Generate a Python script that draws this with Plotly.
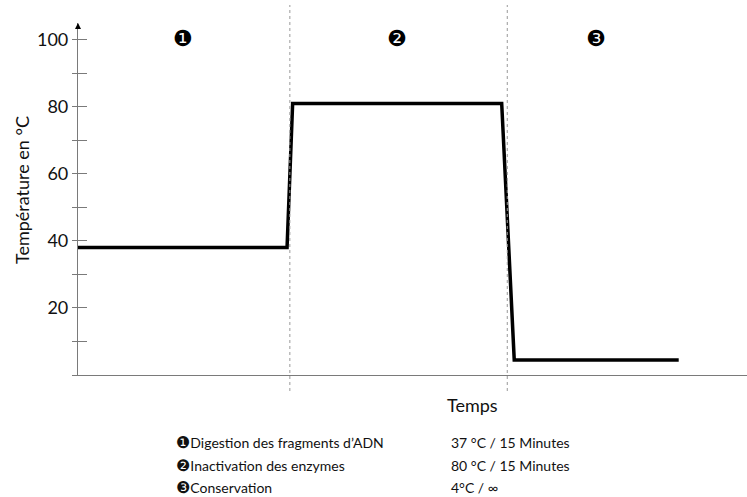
import plotly.graph_objects as go

# time in minutes, temperature in °C as drawn
temps_x = [0, 15, 15.4, 30.4, 31.3, 43.1]
temps_y = [38, 38, 81, 81, 4.5, 4.5]

phase_bounds = [15.2, 30.8]
phase_marks = ["\u2776", "\u2777", "\u2778"]
phase_mark_x = [7.5, 22.9, 37.2]

steps = ["Digestion des fragments d\u2019ADN", "Inactivation des enzymes", "Conservation"]
conditions = ["37 \u00b0C / 15 Minutes", "80 \u00b0C / 15 Minutes", "4\u00b0C / \u221e"]

tick_vals = [0, 10, 20, 30, 40, 50, 60, 70, 80, 90, 100]
tick_text = ["", "", "20", "", "40", "", "60", "", "80", "", "100"]

W, H = 747, 497
L, R, T, B = 78, 0, 23, 122
FONT = "Lato"
AXC = "#7a7a7a"


def px(x):
    return (x - L) / (W - L - R)


def py(y):
    return (H - B - y) / (H - T - B)


fig = go.Figure()
fig.add_trace(go.Scatter(x=temps_x, y=temps_y, mode="lines",
                         line=dict(color="black", width=3.5), hoverinfo="skip"))
fig.add_trace(go.Scatter(x=[None], y=[None], yaxis="y2", showlegend=False))

for b in phase_bounds:
    fig.add_shape(type="line", xref="x", yref="paper", x0=b, x1=b,
                  y0=py(391), y1=py(5),
                  line=dict(color="#999999", width=1, dash="dot"))

for m, x in zip(phase_marks, phase_mark_x):
    fig.add_annotation(x=x, y=100.5, text=m, showarrow=False,
                       font=dict(family="DejaVu Sans", size=22, color="black"))

# arrow on top of the y axis
fig.add_annotation(x=0, y=105, xref="x", yref="y", text="", showarrow=True,
                   ax=0, ay=6, arrowhead=2, arrowsize=1.2, arrowwidth=1,
                   arrowcolor="black")

fig.add_annotation(x=px(22), y=py(190), xref="paper", yref="paper",
                   xanchor="center", yanchor="middle",
                   text="Temp\u00e9rature en \u00b0C", textangle=-90, showarrow=False,
                   font=dict(family=FONT, size=18, color="#111111"))
fig.add_annotation(x=px(472), y=py(405), xref="paper", yref="paper",
                   xanchor="center", yanchor="middle",
                   text="Temps", showarrow=False,
                   font=dict(family=FONT, size=18, color="#111111"))

rows_y = [442, 465, 487]
for m, s, c, ry in zip(phase_marks, steps, conditions, rows_y):
    fig.add_annotation(x=px(174), y=py(ry), xref="paper", yref="paper",
                       xanchor="left", yanchor="middle", showarrow=False,
                       text="<span style='font-family:DejaVu Sans;font-size:16px'>" + m + "</span>" + s,
                       font=dict(family=FONT, size=14, color="#111111"))
    fig.add_annotation(x=px(449), y=py(ry), xref="paper", yref="paper",
                       xanchor="left", yanchor="middle", showarrow=False, text=c,
                       font=dict(family=FONT, size=14, color="#111111"))

fig.update_layout(
    width=W, height=H,
    margin=dict(l=L, r=R, t=T, b=B),
    paper_bgcolor="white", plot_bgcolor="white",
    showlegend=False,
    xaxis=dict(range=[0, 48], showline=True, linecolor=AXC, linewidth=1.2,
               showgrid=False, zeroline=False, showticklabels=False, ticks="",
               automargin=False),
    yaxis=dict(range=[0, 105], showline=True, linecolor=AXC, linewidth=1.2,
               showgrid=False, zeroline=False, tickmode="array",
               tickvals=tick_vals, ticktext=tick_text, ticks="outside",
               ticklen=5, tickcolor=AXC, tickwidth=1.2, automargin=False,
               tickfont=dict(family=FONT, size=18, color="#111111")),
    yaxis2=dict(range=[0, 105], overlaying="y", side="left", showline=False,
                showgrid=False, zeroline=False, tickmode="array",
                tickvals=tick_vals, ticks="inside", ticklen=9, tickcolor=AXC,
                tickwidth=1.2, showticklabels=False, automargin=False),
)

fig.write_html("out.html", config={"displayModeBar": False},
               post_script="document.body.style.margin='0';")
